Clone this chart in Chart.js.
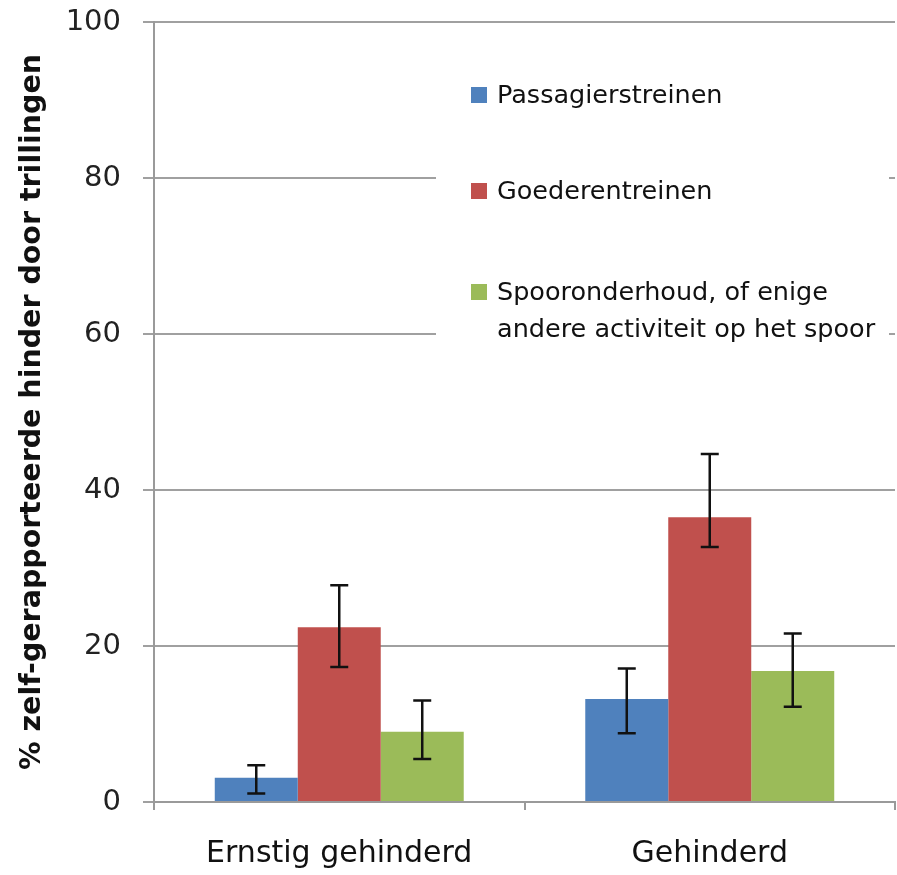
<!DOCTYPE html>
<html>
<head>
<meta charset="utf-8">
<script src="https://cdn.jsdelivr.net/npm/chart.js@4/dist/chart.umd.min.js"></script>
<style>
  html, body { margin: 0; padding: 0; background: #ffffff; }
  #wrap { position: relative; width: 897px; height: 875px; }
</style>
</head>
<body>
<div id="wrap"><canvas id="c" width="897" height="875"></canvas></div>
<script>
// ---- data ----
const categories = ['Ernstig gehinderd', 'Gehinderd'];
const seriesNames = ['Passagierstreinen', 'Goederentreinen', ['Spooronderhoud, of enige', 'andere activiteit op het spoor']];
const passagiers   = [3.1, 13.2];
const passagiersLo = [1.1, 8.8];
const passagiersHi = [4.7, 17.1];
const goederen     = [22.4, 36.5];
const goederenLo   = [17.3, 32.7];
const goederenHi   = [27.8, 44.6];
const spoor        = [9.0, 16.8];
const spoorLo      = [5.5, 12.2];
const spoorHi      = [13.0, 21.6];
const yTicks = [0, 20, 40, 60, 80, 100];

const colors = ['#4F81BD', '#C0504D', '#9BBB59'];
const lows = [passagiersLo, goederenLo, spoorLo];
const highs = [passagiersHi, goederenHi, spoorHi];
const FONT = '"DejaVu Sans", sans-serif';

const errorBars = {
  id: 'errorBars',
  afterDatasetsDraw(chart) {
    const ctx = chart.ctx;
    const y = chart.scales.y;
    ctx.save();
    ctx.strokeStyle = '#111';
    ctx.lineWidth = 2.5;
    chart.data.datasets.forEach((ds, i) => {
      const meta = chart.getDatasetMeta(i);
      meta.data.forEach((bar, j) => {
        const x = bar.x;
        const yt = y.getPixelForValue(highs[i][j]);
        const yb = y.getPixelForValue(lows[i][j]);
        ctx.beginPath();
        ctx.moveTo(x, yt); ctx.lineTo(x, yb);
        ctx.moveTo(x - 9, yt); ctx.lineTo(x + 9, yt);
        ctx.moveTo(x - 9, yb); ctx.lineTo(x + 9, yb);
        ctx.stroke();
      });
    });
    ctx.restore();
  }
};

const boxLegend = {
  id: 'boxLegend',
  afterDraw(chart) {
    const ctx = chart.ctx;
    const y = chart.scales.y;
    ctx.save();
    ctx.fillStyle = '#ffffff';
    ctx.fillRect(436, y.getPixelForValue(95), 453, y.getPixelForValue(56) - y.getPixelForValue(95));
    const rows = [95, 191, 292];
    ctx.font = '25.5px ' + FONT;
    ctx.textBaseline = 'middle';
    ctx.textAlign = 'left';
    seriesNames.forEach((name, i) => {
      ctx.fillStyle = colors[i];
      ctx.fillRect(471, rows[i] - 8, 16, 16);
      ctx.fillStyle = '#111';
      const lines = Array.isArray(name) ? name : [name];
      lines.forEach((ln, k) => ctx.fillText(ln, 497, rows[i] + 1 + k * 37));
    });
    ctx.restore();
  }
};

new Chart(document.getElementById('c'), {
  type: 'bar',
  data: {
    labels: categories,
    datasets: [
      { label: 'Passagierstreinen', data: passagiers, backgroundColor: colors[0] },
      { label: 'Goederentreinen', data: goederen, backgroundColor: colors[1] },
      { label: 'Spooronderhoud, of enige andere activiteit op het spoor', data: spoor, backgroundColor: colors[2] }
    ]
  },
  options: {
    responsive: false,
    animation: false,
    devicePixelRatio: 1,
    layout: { padding: { top: 22, right: 2, left: 0, bottom: 0 } },
    datasets: { bar: { categoryPercentage: 0.672, barPercentage: 1.0 } },
    plugins: { legend: { display: false }, tooltip: { enabled: false } },
    scales: {
      x: {
        grid: { display: true, drawOnChartArea: false, drawTicks: true, tickLength: 8, color: '#9a9a9a', lineWidth: 2, offset: true },
        border: { display: true, color: '#9a9a9a', width: 2 },
        ticks: { color: '#111', font: { family: FONT, size: 30 }, padding: 26 },
        afterFit(scale) { scale.height = 73; scale.paddingLeft = 0; scale.paddingRight = 0; }
      },
      y: {
        min: 0, max: 100,
        afterBuildTicks(scale) { scale.ticks = yTicks.map(v => ({ value: v })); },
        grid: { color: '#a0a0a0', lineWidth: 2, tickLength: 11, drawTicks: true },
        border: { display: true, color: '#9a9a9a', width: 2 },
        ticks: { color: '#222', font: { family: FONT, size: 29 }, padding: 22 },
        title: { display: true, text: '% zelf-gerapporteerde hinder door trillingen', color: '#111', font: { family: FONT, size: 28.5, weight: 'bold' }, padding: { top: 15, bottom: 8 } },
        afterFit(scale) { scale.width = 154; scale.paddingTop = 0; scale.paddingBottom = 0; }
      }
    }
  },
  plugins: [errorBars, boxLegend]
});
</script>
</body>
</html>
